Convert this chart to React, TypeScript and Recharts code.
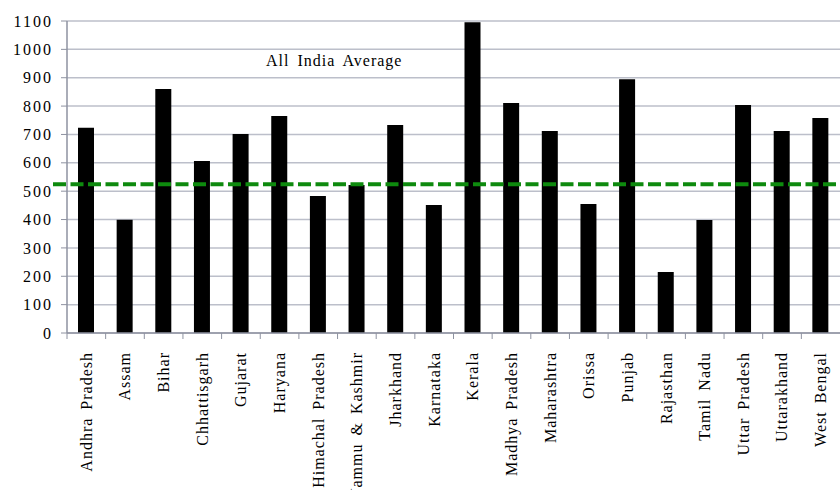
import React from 'react';
import { BarChart, Bar, XAxis, YAxis, CartesianGrid, ReferenceLine, ReferenceDot } from 'recharts';

const states = [
  'Andhra Pradesh', 'Assam', 'Bihar', 'Chhattisgarh', 'Gujarat', 'Haryana',
  'Himachal Pradesh', 'Jammu & Kashmir', 'Jharkhand', 'Karnataka', 'Kerala',
  'Madhya Pradesh', 'Maharashtra', 'Orissa', 'Punjab', 'Rajasthan',
  'Tamil Nadu', 'Uttar Pradesh', 'Uttarakhand', 'West Bengal',
];
const values = [724, 399, 860, 606, 702, 765, 483, 522, 733, 451, 1096, 811, 712, 455, 895, 215, 398, 804, 712, 758];
const yTicks = [0, 100, 200, 300, 400, 500, 600, 700, 800, 900, 1000, 1100];
const allIndiaAverage = 524;
const annotationText = 'All India Average';
const annotationY = 960;

const data = states.map((s, i) => ({ state: s, value: values[i] }));

const W = 840;
const H = 490;
const Y_AXIS_W = 67;
const PLOT_W = W - Y_AXIS_W;
const BAND = PLOT_W / states.length;
const FONT = "'Liberation Serif', 'DejaVu Serif', serif";
const textStyle = { fontFamily: FONT };

const XTick = (props: any) => {
  const { x, y, payload } = props;
  return (
    <g transform={`translate(${x},${y})`}>
      <line x1={-BAND / 2} y1={-19} x2={-BAND / 2} y2={-13} stroke="#8e92a0" strokeWidth={1} />
      <text
        transform="rotate(-90)"
        x={0}
        y={0}
        dy="0.34em"
        textAnchor="end"
        style={textStyle}
        fontSize={16}
        letterSpacing={1}
        wordSpacing={3}
        fill="#000"
      >
        {payload.value}
      </text>
    </g>
  );
};

const AvgLine = (p: any) => (
  <line x1={p.x1 - 14} y1={p.y1} x2={p.x2} y2={p.y2} stroke="#0e8a0e" strokeWidth={4} strokeDasharray="13 4.5" />
);

const AnnotationLabel = (p: any) => {
  const vb = p.viewBox || {};
  const cx = (vb.x ?? 0) + (vb.width ?? 0) / 2;
  const cy = (vb.y ?? 0) + (vb.height ?? 0) / 2;
  return (
    <text x={cx + 16} y={cy} dy="0.35em" textAnchor="middle" style={textStyle} fontSize={16} letterSpacing={1} wordSpacing={3} fill="#000">
      {annotationText}
    </text>
  );
};

export default function App() {
  return (
    <div style={{ position: 'absolute', left: 0, top: 0, width: W, height: H, background: '#fff', fontFamily: FONT }}>
      <BarChart width={W} height={H} data={data} margin={{ top: 21, right: 0, left: 0, bottom: 0 }} style={textStyle}>
        <CartesianGrid vertical={false} stroke="#bcbfca" strokeWidth={1.5} />
        <XAxis
          dataKey="state"
          height={157}
          interval={0}
          tickLine={false}
          tickSize={0}
          tickMargin={19}
          axisLine={{ stroke: '#8e92a0', strokeWidth: 1.5 }}
          tick={<XTick />}
        />
        <YAxis
          width={Y_AXIS_W}
          domain={[0, 1100]}
          ticks={yTicks}
          interval={0}
          tickSize={6}
          tickMargin={8}
          tickLine={{ stroke: '#8e92a0' }}
          axisLine={{ stroke: '#8e92a0', strokeWidth: 1.5 }}
          tick={{ style: textStyle, fontSize: 16, fill: '#000', letterSpacing: 2 }}
        />
        <Bar dataKey="value" fill="#000" barSize={16} isAnimationActive={false} />
        <ReferenceLine y={allIndiaAverage} shape={<AvgLine />} />
        <ReferenceDot x="Himachal Pradesh" y={annotationY} r={0} fill="none" stroke="none" label={<AnnotationLabel />} />
      </BarChart>
    </div>
  );
}
